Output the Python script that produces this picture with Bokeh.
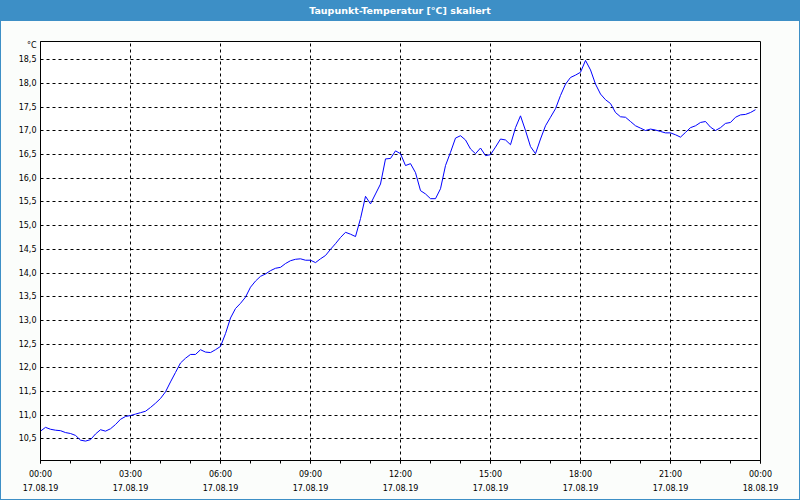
from bokeh.plotting import figure
from bokeh.models import Div, FixedTicker, Range1d
from bokeh.layouts import column
from bokeh.embed import file_html
from bokeh.resources import INLINE

title_text = "Taupunkt-Temperatur [°C] skaliert"
unit_label = "°C"

# sample times (minutes after 17.08.19 00:00), 10-minute readings
minutes = list(range(0, 1440, 10))
dewpoint = [
    10.66, 10.74, 10.70, 10.68, 10.67, 10.63, 10.61, 10.57, 10.47, 10.45,
    10.48, 10.60, 10.69, 10.66, 10.71, 10.80, 10.91, 10.97, 10.99, 11.02,
    11.05, 11.08, 11.16, 11.25, 11.35, 11.49, 11.70, 11.90, 12.10, 12.20,
    12.28, 12.28, 12.38, 12.33, 12.32, 12.38, 12.45, 12.72, 13.05, 13.25,
    13.36, 13.49, 13.70, 13.83, 13.93, 13.98, 14.05, 14.10, 14.12, 14.20,
    14.26, 14.29, 14.30, 14.27, 14.27, 14.22, 14.30, 14.37, 14.50, 14.62,
    14.75, 14.86, 14.82, 14.77, 15.15, 15.62, 15.46, 15.67, 15.88, 16.41,
    16.42, 16.58, 16.52, 16.27, 16.31, 16.12, 15.74, 15.67, 15.57, 15.57,
    15.78, 16.27, 16.55, 16.85, 16.90, 16.81, 16.62, 16.52, 16.64, 16.48,
    16.50, 16.66, 16.83, 16.81, 16.71, 17.07, 17.32, 17.01, 16.67, 16.52,
    16.83, 17.11, 17.29, 17.47, 17.75, 17.99, 18.13, 18.18, 18.24, 18.49,
    18.29, 17.99, 17.78, 17.66, 17.58, 17.39, 17.30, 17.29, 17.20, 17.11,
    17.06, 17.01, 17.04, 17.02, 16.99, 16.96, 16.96, 16.92, 16.87, 16.97,
    17.07, 17.11, 17.18, 17.20, 17.08, 17.01, 17.07, 17.16, 17.18, 17.29,
    17.34, 17.35, 17.39, 17.45,
]

x_tick_hours = [0, 3, 6, 9, 12, 15, 18, 21, 24]
x_tick_times = ["00:00", "03:00", "06:00", "09:00", "12:00", "15:00", "18:00", "21:00", "00:00"]
x_tick_dates = ["17.08.19"] * 8 + ["18.08.19"]
x_minor_hours = list(range(0, 25))

y_ticks = [10.5, 11.0, 11.5, 12.0, 12.5, 13.0, 13.5, 14.0, 14.5, 15.0,
           15.5, 16.0, 16.5, 17.0, 17.5, 18.0, 18.5]
y_tick_labels = ["10,5", "11,0", "11,5", "12,0", "12,5", "13,0", "13,5", "14,0", "14,5", "15,0",
                 "15,5", "16,0", "16,5", "17,0", "17,5", "18,0", "18,5"]
unit_label_level = 18.8  # where the unit text sits on the value axis

BLUE = "#3d8fc6"
BG = "#fbfdfb"
FONT = "DejaVu Sans"

hours = [m / 60.0 for m in minutes]

div = Div(
    text=(f'<div style="width:798px;height:20px;line-height:20px;background:{BLUE};'
          f'color:white;font-family:\'{FONT}\';font-weight:bold;font-size:9.5px;'
          f'text-align:center;">{title_text}</div>'),
    width=798, height=20, margin=(0, 0, 0, 0),
)

p = figure(
    width=798, height=478,
    x_range=Range1d(0, 24), y_range=Range1d(10.04, 18.89),
    output_backend="svg", toolbar_location=None,
    min_border_left=39, min_border_right=39, min_border_top=20, min_border_bottom=39,
    background_fill_color="white", border_fill_color=BG,
    margin=(0, 0, 0, 0),
)
p.outline_line_color = "black"
p.outline_line_width = 1

p.line(hours, dewpoint, line_color="#0000ff", line_width=1)

# x axis
xa = p.xaxis[0]
xa.ticker = FixedTicker(ticks=x_tick_hours, minor_ticks=x_minor_hours)
xa.major_label_overrides = {h: f"{t}\n{d}" for h, t, d in zip(x_tick_hours, x_tick_times, x_tick_dates)}
xa.major_tick_in = 0
xa.major_tick_out = 3
xa.minor_tick_in = 0
xa.minor_tick_out = 3
xa.axis_line_color = "black"
xa.major_tick_line_color = "black"
xa.minor_tick_line_color = "black"
xa.major_label_text_font = FONT
xa.major_label_text_font_size = "8px"
xa.major_label_text_color = "black"
xa.major_label_text_line_height = 1.65
xa.major_label_standoff = 6

# y axis (unit text shown as the topmost label)
ya = p.yaxis[0]
ya.ticker = FixedTicker(ticks=y_ticks + [unit_label_level])
overrides = {v: s for v, s in zip(y_ticks, y_tick_labels)}
overrides[unit_label_level] = unit_label
ya.major_label_overrides = overrides
ya.major_tick_in = 0
ya.major_tick_out = 0
ya.minor_tick_line_color = None
ya.axis_line_color = "black"
ya.major_label_text_font = FONT
ya.major_label_text_font_size = "8px"
ya.major_label_text_color = "black"
ya.major_label_standoff = 4

# grid
p.xgrid[0].ticker = FixedTicker(ticks=x_tick_hours[1:-1])
p.ygrid[0].ticker = FixedTicker(ticks=y_ticks)
for g in (p.xgrid[0], p.ygrid[0]):
    g.grid_line_color = "black"
    g.grid_line_dash = "3 3"
    g.grid_line_alpha = 1.0

layout = column(div, p, spacing=0,
                styles={"border": f"1px solid {BLUE}", "background": BG})

open("out.html", "w").write(file_html(layout, INLINE))
